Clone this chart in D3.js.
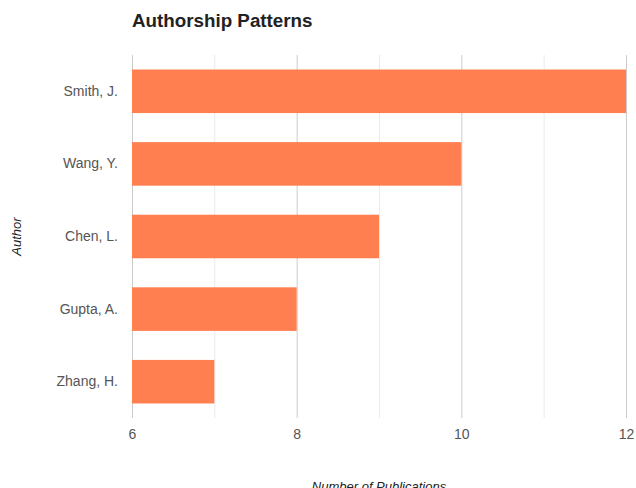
<!DOCTYPE html>
<html>
<head>
<meta charset="utf-8">
<script src="https://cdn.jsdelivr.net/npm/d3@7"></script>
<style>
  body { margin: 0; background: #fff; }
  svg { font-family: Arial, "Liberation Sans", sans-serif; }
</style>
</head>
<body>
<div id="chart"></div>
<script>
const authors = ['Smith, J.', 'Wang, Y.', 'Chen, L.', 'Gupta, A.', 'Zhang, H.'];
const publications = [12, 10, 9, 8, 7];
const majorTicks = [6, 8, 10, 12];
const minorTicks = [7, 9, 11];

const width = 636;
const height = 488;
const margin = { top: 55, right: 10, bottom: 70, left: 132 };
const boundedWidth = 626 - margin.left;
const boundedHeight = 418 - margin.top;

const data = authors.map((a, i) => ({ author: a, value: publications[i] }));

const svg = d3.select('#chart').append('svg')
  .attr('width', width)
  .attr('height', height);

const g = svg.append('g')
  .attr('transform', `translate(${margin.left}, ${margin.top})`);

const xScale = d3.scaleLinear()
  .domain([6, 12])
  .range([0, boundedWidth]);

const yScale = d3.scaleBand()
  .domain(authors)
  .range([0, boundedHeight])
  .paddingInner(0.4)
  .paddingOuter(0.2);

// gridlines
g.selectAll('.minor')
  .data(minorTicks)
  .enter()
  .append('line')
  .attr('x1', d => xScale(d) + 0.5)
  .attr('x2', d => xScale(d) + 0.5)
  .attr('y1', 0)
  .attr('y2', boundedHeight)
  .attr('stroke', '#ebebeb');

g.selectAll('.major')
  .data(majorTicks)
  .enter()
  .append('line')
  .attr('x1', d => xScale(d) + 0.5)
  .attr('x2', d => xScale(d) + 0.5)
  .attr('y1', 0)
  .attr('y2', boundedHeight)
  .attr('stroke', '#cccccc');

// bars
g.selectAll('rect')
  .data(data)
  .enter()
  .append('rect')
  .attr('x', xScale(6))
  .attr('y', d => yScale(d.author))
  .attr('width', d => xScale(d.value) - xScale(6))
  .attr('height', yScale.bandwidth())
  .attr('fill', '#ff7f50');

// axes
const xAxis = g.append('g')
  .attr('transform', `translate(0, ${boundedHeight})`)
  .call(d3.axisBottom(xScale).tickValues(majorTicks).tickFormat(d3.format('d')).tickSize(0).tickPadding(11));
xAxis.select('.domain').remove();
xAxis.selectAll('text')
  .style('font-size', '14px')
  .style('font-family', 'Arial, "Liberation Sans", sans-serif')
  .attr('fill', '#555');

const yAxis = g.append('g')
  .call(d3.axisLeft(yScale).tickSize(0).tickPadding(14));
yAxis.select('.domain').remove();
yAxis.selectAll('text')
  .style('font-size', '14px')
  .style('font-family', 'Arial, "Liberation Sans", sans-serif')
  .attr('fill', '#555');

// title
svg.append('text')
  .attr('x', margin.left)
  .attr('y', 27)
  .attr('font-weight', 700)
  .style('font-size', '18.8px')
  .attr('fill', '#222')
  .text('Authorship Patterns');

// axis titles
svg.append('text')
  .attr('x', margin.left + boundedWidth / 2)
  .attr('y', 491)
  .attr('text-anchor', 'middle')
  .style('font-size', '13px')
  .style('font-style', 'italic')
  .attr('fill', '#222')
  .text('Number of Publications');

svg.append('text')
  .attr('transform', `translate(21, ${margin.top + boundedHeight / 2}) rotate(-90)`)
  .attr('text-anchor', 'middle')
  .style('font-size', '13px')
  .style('font-style', 'italic')
  .attr('fill', '#222')
  .text('Author');
</script>
</body>
</html>
